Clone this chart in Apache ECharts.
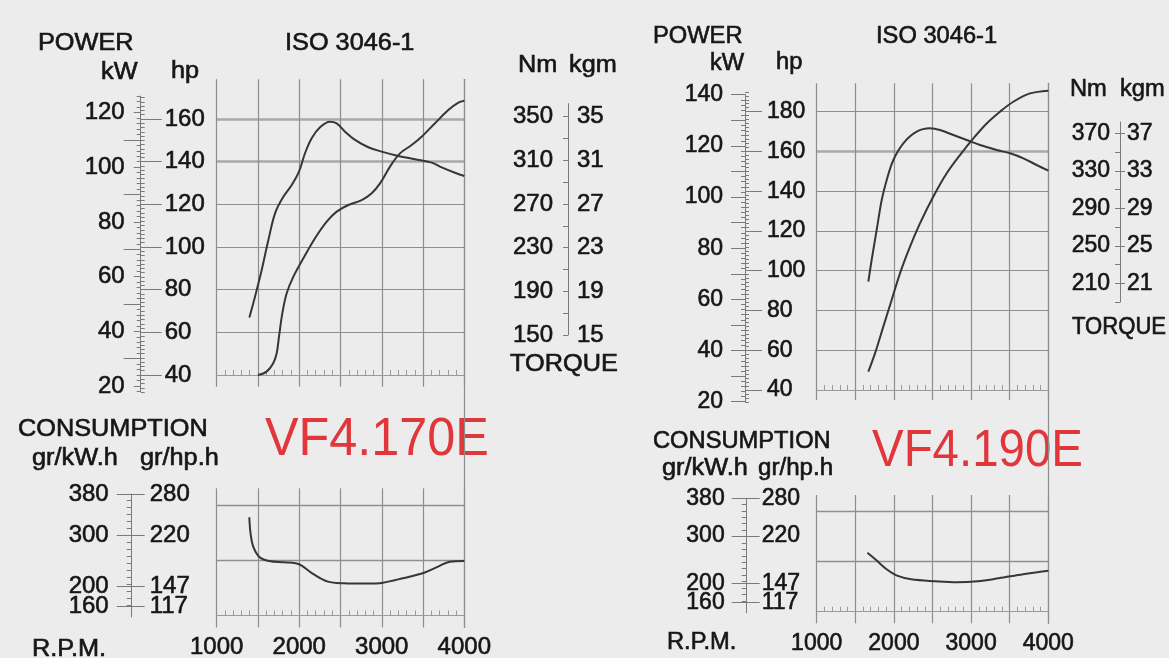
<!DOCTYPE html>
<html><head><meta charset="utf-8">
<script src="https://cdn.jsdelivr.net/npm/echarts@6/dist/echarts.min.js"></script>
<style>html,body{margin:0;padding:0;background:#ececec}#c{width:1169px;height:658px}</style>
</head><body><div id="c"></div>
<script>
// ================= DATA =================
const rpmLabels = [1000, 2000, 3000, 4000];

// ---- VF4.170E (left) ----
const powerRpmL = [1500, 1605, 1685, 1727, 1755, 1795, 1848, 1929, 2050, 2191, 2333, 2454, 2595, 2757, 2878, 2979, 3100, 3221, 3362, 3483, 3645, 3806, 3928, 4000];
const powerHpL  = [40, 41.6, 45.5, 50.2, 58, 68.9, 78.3, 86.1, 94.7, 104.1, 111.9, 116.6, 119.7, 122, 125.2, 129.8, 137.7, 143.9, 147.8, 151.7, 158, 164.2, 167.7, 168.6];
const torqueRpmL = [1396, 1464, 1545, 1626, 1707, 1808, 1909, 1997, 2070, 2151, 2252, 2373, 2454, 2555, 2676, 2837, 2999, 3201, 3403, 3605, 3726, 3887, 4000];
const torqueNmL  = [166, 185, 209.5, 237, 261.5, 276.7, 287.4, 299.6, 316.5, 330.2, 340.3, 345.4, 343.9, 336.3, 328.7, 322, 318, 314, 311, 307.9, 303.6, 298.7, 295.7];
const consRpmL = [1395, 1410, 1443, 1514, 1633, 1824, 1990, 2157, 2348, 2538, 2824, 3014, 3252, 3514, 3681, 3824, 4000];
const consL    = [334.5, 303.3, 277.1, 257.6, 249.2, 246.6, 243.4, 225.2, 208.9, 205.7, 205.1, 206.9, 215.4, 226.4, 238.1, 247.9, 249.2];

const kwLabelsL  = [20, 40, 60, 80, 100, 120];
const hpLabelsL  = [40, 60, 80, 100, 120, 140, 160];
const nmLabelsL  = [150, 190, 230, 270, 310, 350];
const kgmLabelsL = [15, 19, 23, 27, 31, 35];

// ---- VF4.190E (right) ----
const powerRpmR = [1669, 1755, 1863, 1971, 2079, 2209, 2338, 2511, 2684, 2856, 3029, 3202, 3374, 3547, 3763, 4000];
const powerHpR  = [49.2, 58.4, 71.9, 85.3, 98.7, 112.1, 123.8, 137.3, 149, 158.2, 166.6, 174.1, 180, 185, 189.2, 190.6];
const torqueRpmR = [1669, 1712, 1777, 1842, 1907, 1993, 2122, 2295, 2468, 2597, 2770, 2943, 3115, 3331, 3504, 3677, 3849, 4000];
const torqueNmR  = [211.7, 234.9, 266.9, 298.9, 320.2, 341.5, 359.3, 371.7, 375.3, 373.5, 368.2, 362.9, 357.5, 352.2, 348.7, 343.3, 336.2, 330.1];
const consRpmR = [1657, 1770, 1906, 2042, 2224, 2541, 2813, 3085, 3357, 3674, 4000];
const consR    = [264.9, 249.5, 229.8, 216.3, 208.6, 204.4, 202.3, 204.4, 210.8, 219.2, 226.8];

const kwLabelsR  = [20, 40, 60, 80, 100, 120, 140];
const hpLabelsR  = [40, 60, 80, 100, 120, 140, 160, 180];
const nmLabelsR  = [210, 250, 290, 330, 370];
const kgmLabelsR = [21, 25, 29, 33, 37];

// consumption ruler labels (both engines)
const consKwLabels = [380, 300, 200, 160];
const consHpLabels = ['280', '220', '147', '117'];
const consHpMinor  = [120, 130, 140, 150, 160, 170, 180, 190, 200, 210, 220, 230, 240, 250, 260, 270, 280];

// ================= STYLE =================
const FONT = '"Liberation Sans", Arial, Helvetica, sans-serif';
const INK = '#161616';
const GRIDC = '#8e8e8e';
const THICKC = '#a9a9a9';
const ROWC = '#9a9a9a';
const RULER = '#7a7a7a';
const CURVE = '#363636';
const RED = '#e0363c';
const T = 'rgba(0,0,0,0)';
const BOLDEN = 0.6;

const grids = [], xAxes = [], yAxes = [], series = [], graphics = [];

function lin(v0, p0, v1, p1) { const k = (p1 - p0) / (v1 - v0); return { px: v => p0 + (v - v0) * k, val: p => v0 + (p - p0) / k }; }
function addGrid(l, r, t, b) { grids.push({ left: l, top: t, width: Math.max(1, r - l), height: b - t, show: false, containLabel: false, outerBoundsMode: 'none' }); return grids.length - 1; }
function hiddenX(g, min, max) { return xAxes.push({ type: 'value', gridIndex: g, position: 'bottom', min, max, show: false }) - 1; }
function baseY(g, min, max, extra) {
  return yAxes.push(Object.assign({ type: 'value', gridIndex: g, position: 'left', min, max,
    axisLine: { show: false, onZero: false }, axisTick: { show: false }, axisLabel: { show: false }, splitLine: { show: false } }, extra)) - 1;
}
function curve(xi, yi, xs, ys) {
  return { type: 'line', xAxisIndex: xi, yAxisIndex: yi, data: xs.map((x, i) => [x, ys[i]]), showSymbol: false, symbol: 'none',
    smooth: 0.35, lineStyle: { color: CURVE, width: 2 }, silent: true, z: 5 };
}
function txt(s, x, y, size, sx, color) {
  const c = color || INK;
  graphics.push({ type: 'text', x, y, scaleX: sx, silent: true,
    style: { text: s, x: 0, y: 0, fontFamily: FONT, fontSize: size, fill: c,
      stroke: color ? null : c, lineWidth: color ? 0 : BOLDEN,
      textAlign: 'left', textVerticalAlign: 'middle', align: 'left', verticalAlign: 'middle' } });
}

function buildPanel(P) {
  const HP = lin(...P.hpCal), KW = lin(...P.kwCal), NM = lin(...P.nmCal), CS = lin(...P.csCal);
  const lab = extra => Object.assign({ show: true, fontFamily: FONT, fontSize: P.fs, color: INK,
    textBorderColor: INK, textBorderWidth: BOLDEN, showMinLabel: true, showMaxLabel: true, hideOverlap: false }, extra);
  const tick = extra => Object.assign({ show: true, lineStyle: { color: RULER, width: 1 } }, extra);
  const rline = { show: true, onZero: false, lineStyle: { color: RULER, width: 1 } };

  // vertical grid lines
  function vGrid(top, bot) {
    const g = addGrid(P.x0, P.x1, top, bot);
    xAxes.push({ type: 'value', gridIndex: g, position: 'bottom', min: 1000, max: 4000, interval: 500,
      axisLine: { show: false, onZero: false }, axisTick: { show: false }, axisLabel: { show: false },
      splitLine: { show: true, lineStyle: { color: GRIDC, width: 1.2 } } });
    baseY(g, 0, 1, {});
  }
  vGrid(P.vTop, P.vBot);
  vGrid(P.cvTop, P.cvBot);
  // long 4000 rpm line
  {
    const g = addGrid(P.x0, P.x1, P.vTop, P.cvBot);
    hiddenX(g, 1000, 4000);
    baseY(g, 0, 1, { position: 'right', axisLine: { show: true, onZero: false, lineStyle: { color: GRIDC, width: 1.2 } } });
  }
  // power / torque plot
  {
    const top = HP.px(P.hpMax), bot = HP.px(40);
    const g = addGrid(P.x0, P.x1, top, bot);
    const xi = xAxes.push({ type: 'value', gridIndex: g, position: 'bottom', min: 1000, max: 4000, interval: 500,
      axisLine: { show: true, onZero: false, lineStyle: { color: ROWC, width: 1 } }, axisTick: { show: false, inside: true },
      minorTick: { show: true, splitNumber: 5, length: 5, lineStyle: { color: ROWC, width: 1 } },
      axisLabel: { show: false }, splitLine: { show: false } }) - 1;
    const ticks = []; for (let v = 40; v <= P.hpMax; v += 20) ticks.push(v);
    const yHp = baseY(g, 40, P.hpMax, { interval: 20, splitLine: { show: true, lineStyle: { color: ticks.map(v => P.thin.includes(v) ? GRIDC : T), width: 1.2 } } });
    baseY(g, 40, P.hpMax, { interval: 20, splitLine: { show: true, lineStyle: { color: ticks.map(v => P.thick.includes(v) ? THICKC : T), width: 2.6 } } });
    const yNm = baseY(g, NM.val(bot), NM.val(top), { position: 'right', show: false });
    series.push(curve(xi, yHp, P.powerRpm, P.powerHp));
    series.push(curve(xi, yNm, P.torqueRpm, P.torqueNm));
  }
  // consumption plot
  {
    const top = P.cLineTop, bot = P.cRow;
    const g = addGrid(P.x0, P.x1, top, bot);
    const xi = xAxes.push({ type: 'value', gridIndex: g, position: 'bottom', min: 1000, max: 4000, interval: 500,
      axisLine: { show: true, onZero: false, lineStyle: { color: ROWC, width: 1 } }, axisTick: { show: false, inside: true },
      minorTick: { show: true, splitNumber: 5, length: 5, lineStyle: { color: ROWC, width: 1 } },
      axisLabel: lab({ customValues: rpmLabels, margin: P.xMargin, formatter: v => (rpmLabels.includes(v) ? String(v) : '') }),
      splitLine: { show: false } }) - 1;
    baseY(g, 0, 2, { interval: 1, splitLine: { show: true, lineStyle: { color: [T, GRIDC, GRIDC], width: 1.4 } } });
    const yc = baseY(g, CS.val(bot), CS.val(top), { position: 'right', show: false });
    series.push(curve(xi, yc, P.consRpm, P.cons));
  }
  // power ruler : kW side
  {
    const g = addGrid(P.rx, P.rx + 1, KW.px(P.kwMax), KW.px(P.kwMin));
    hiddenX(g, 0, 1);
    baseY(g, P.kwMin, P.kwMax, { axisLine: rline, axisTick: tick({ customValues: P.kwLabels, length: P.kwTickLen }),
      axisLabel: lab({ customValues: P.kwLabels, margin: P.kwMargin }) });
    baseY(g, P.kwMin, P.kwMax, { axisTick: tick({ customValues: P.kwOdd, length: P.kwOddLen }) });
    baseY(g, P.kwMin, P.kwMax, { interval: 2, axisTick: tick({ length: 4 }) });
  }
  // power ruler : hp side
  {
    const g = addGrid(P.rx, P.rx + 1, HP.px(P.hprMax), HP.px(P.hprMin));
    hiddenX(g, 0, 1);
    baseY(g, P.hprMin, P.hprMax, { axisTick: tick({ inside: true, customValues: P.hpLabels, length: P.hpTickLen }),
      axisLabel: lab({ inside: true, customValues: P.hpLabels, margin: P.hpMargin }) });
    baseY(g, P.hprMin, P.hprMax, { interval: 2, axisTick: tick({ inside: true, length: 4 }) });
  }
  // torque ruler
  {
    const g = addGrid(P.tx, P.tx + 1, NM.px(P.nmMax), NM.px(P.nmMin));
    hiddenX(g, 0, 1);
    const minor = []; for (let v = P.nmMin; v <= P.nmMax; v += 20) minor.push(v);
    baseY(g, P.nmMin, P.nmMax, { axisLine: rline, axisTick: tick({ customValues: minor, length: 5 }),
      axisLabel: lab({ customValues: P.nmLabels, margin: P.nmMargin }) });
    baseY(g, P.nmMin, P.nmMax, { axisTick: tick({ show: P.kgTick > 0, inside: true, customValues: P.nmLabels, length: P.kgTick }),
      axisLabel: lab({ inside: true, customValues: P.nmLabels, margin: P.kgmMargin,
        formatter: v => { const i = P.nmLabels.indexOf(v); return i < 0 ? '' : String(P.kgmLabels[i]); } }) });
  }
  // consumption ruler (labels split over two axes so close labels are not hidden)
  {
    const g = addGrid(P.crx, P.crx + 1, CS.px(P.cMax), CS.px(P.cMin));
    hiddenX(g, 0, 1);
    baseY(g, P.cMin, P.cMax, { axisLine: rline, axisTick: tick({ customValues: consKwLabels, length: 15 }) });
    baseY(g, P.cMin, P.cMax, { axisTick: tick({ inside: true, customValues: consKwLabels, length: 13 }) });
    baseY(g, P.cMin, P.cMax, { axisTick: tick({ customValues: consHpMinor.map(v => v / 0.7355), length: 5 }) });
    [[0, 2], [1, 3]].forEach(idx => {
      const vals = idx.map(i => consKwLabels[i]);
      baseY(g, P.cMin, P.cMax, { axisLabel: lab({ customValues: vals, margin: P.cKwMargin }) });
      baseY(g, P.cMin, P.cMax, { axisLabel: lab({ inside: true, customValues: vals, margin: P.cHpMargin,
        formatter: v => { const i = consKwLabels.indexOf(v); return i < 0 ? '' : consHpLabels[i]; } }) });
    });
  }
  // static texts
  P.texts.forEach(t => txt(t[0], t[1], t[2], t[3] || P.tfs, t[4] || P.tsx, t[5]));
}

buildPanel({
  x0: 216.7, x1: 464.3, vTop: 79.3, vBot: 386.7, cvTop: 488.3, cvBot: 627.5, cLineTop: 505, cRow: 615.5,
  hpCal: [40, 375, 160, 119], hpMax: 180, thin: [60, 80, 100, 120], thick: [140, 160],
  kwCal: [20, 386, 120, 112.5], kwMin: 18, kwMax: 126, kwLabels: kwLabelsL, kwOdd: [30, 50, 70, 90, 110], kwTickLen: 7, kwOddLen: 17, kwMargin: 16,
  rx: 140.7, hprMin: 32, hprMax: 170, hpLabels: hpLabelsL, hpTickLen: 21, hpMargin: 24,
  nmCal: [150, 335, 350, 116.7], tx: 568, nmMin: 150, nmMax: 362, nmLabels: nmLabelsL, kgmLabels: kgmLabelsL, nmMargin: 15, kgmMargin: 9, kgTick: 0,
  csCal: [380, 494, 160, 606.7], crx: 131.7, cMin: 140, cMax: 380, cKwMargin: 23, cHpMargin: 18,
  xMargin: 20, fs: 24, tfs: 23, tsx: 1.1,
  powerRpm: powerRpmL, powerHp: powerHpL, torqueRpm: torqueRpmL, torqueNm: torqueNmL, consRpm: consRpmL, cons: consL,
  texts: [['POWER', 38, 43.5], ['kW', 101, 73], ['hp', 171, 72], ['ISO 3046-1', 285, 43.5], ['Nm', 518, 66], ['kgm', 569, 66],
    ['TORQUE', 510, 365], ['CONSUMPTION', 18, 430], ['gr/kW.h', 32, 459], ['gr/hp.h', 140, 459], ['R.P.M.', 32, 650],
    ['VF4.170E', 265, 440, 53, 0.95, RED]]
});

buildPanel({
  x0: 816.7, x1: 1048.3, vTop: 83.3, vBot: 400, cvTop: 495, cvBot: 623.3, cLineTop: 511.7, cRow: 611.7,
  hpCal: [40, 390, 180, 111.7], hpMax: 200, thin: [60, 80, 100, 120, 140, 180], thick: [160],
  kwCal: [20, 401.7, 140, 94.7], kwMin: 20, kwMax: 140, kwLabels: kwLabelsR, kwOdd: [30, 50, 70, 90, 110, 130], kwTickLen: 14, kwOddLen: 14, kwMargin: 22,
  rx: 745, hprMin: 34, hprMax: 190, hpLabels: hpLabelsR, hpTickLen: 17, hpMargin: 22,
  nmCal: [210, 283.3, 370, 133.3], tx: 1120, nmMin: 190, nmMax: 382, nmLabels: nmLabelsR, kgmLabels: kgmLabelsR, nmMargin: 10, kgmMargin: 7, kgTick: 5,
  csCal: [380, 498.3, 160, 602.3], crx: 746.7, cMin: 138, cMax: 380, cKwMargin: 22, cHpMargin: 15,
  xMargin: 20, fs: 23, tfs: 23, tsx: 1.03,
  powerRpm: powerRpmR, powerHp: powerHpR, torqueRpm: torqueRpmR, torqueNm: torqueNmR, consRpm: consRpmR, cons: consR,
  texts: [['POWER', 653, 36.7], ['kW', 710, 64], ['hp', 776, 63], ['ISO 3046-1', 876, 36.7], ['Nm', 1070, 90], ['kgm', 1120, 90],
    ['TORQUE', 1072, 327.5, 23, 0.96], ['CONSUMPTION', 653, 442], ['gr/kW.h', 662, 469, 23, 1.1], ['gr/hp.h', 758, 469, 23, 1.05], ['R.P.M.', 667, 643],
    ['VF4.190E', 872, 452, 51, 0.93, RED]]
});

const chart = echarts.init(document.getElementById('c'), null, { renderer: 'canvas' });
chart.setOption({
  backgroundColor: '#ececec',
  animation: false,
  grid: grids, xAxis: xAxes, yAxis: yAxes, series, graphic: graphics
});
</script>
</body></html>
